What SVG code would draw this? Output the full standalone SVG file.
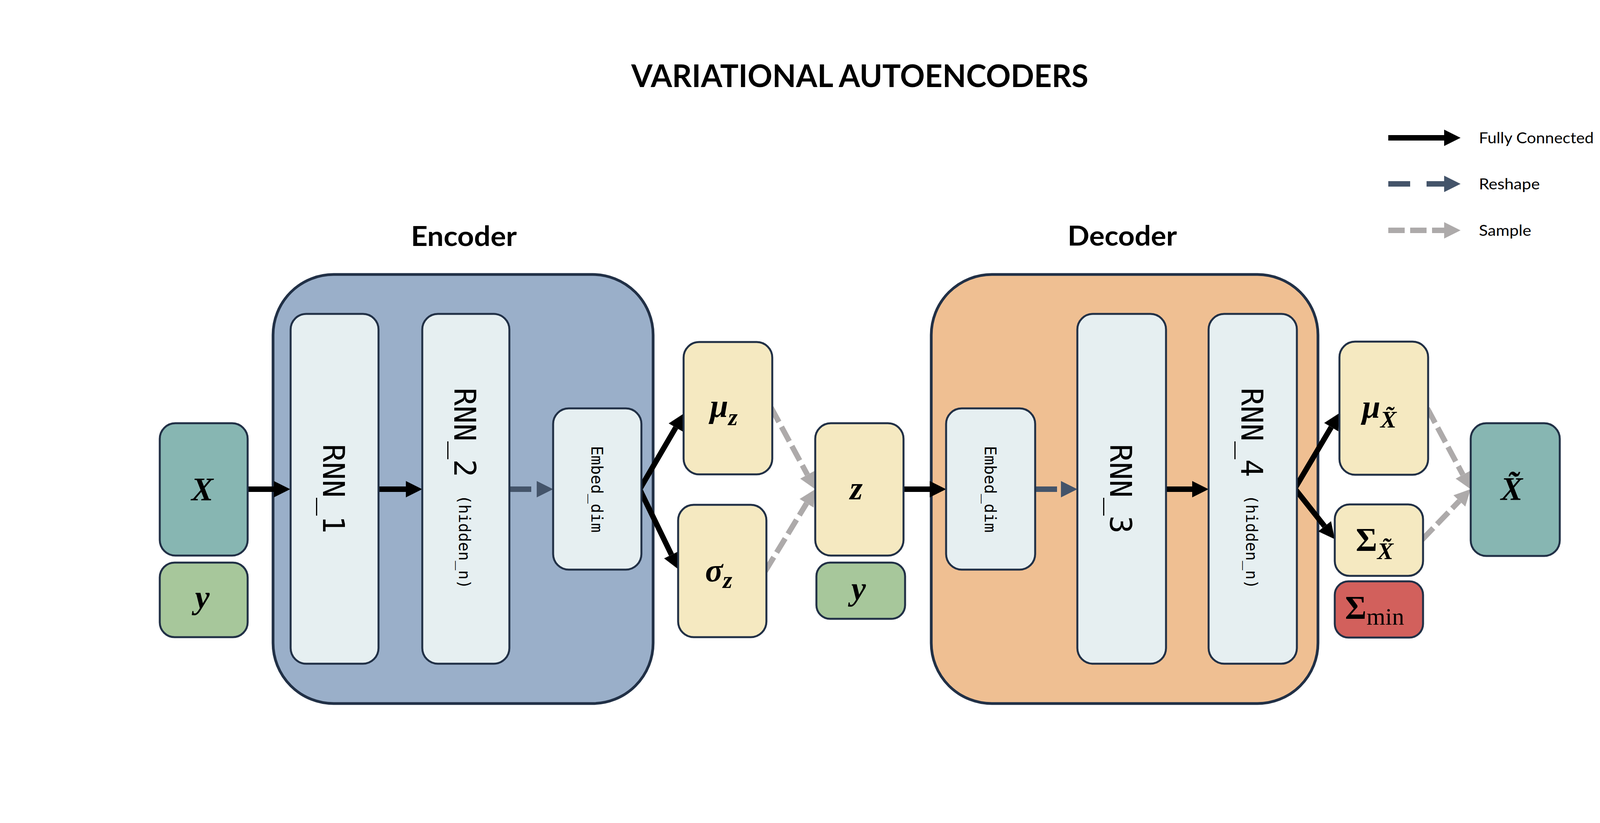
<svg xmlns="http://www.w3.org/2000/svg" width="4400" height="2108" viewBox="0 0 4400 2108">
<defs>
<style>
.bg{fill:#ffffff}
.box{stroke:#213046;stroke-width:5}
.big{stroke:#213046;stroke-width:7}
.teal{fill:#87B6B2}
.green{fill:#A7C79B}
.blue{fill:#9AAFC9}
.orange{fill:#EFBF92}
.light{fill:#E6EFF1}
.yellow{fill:#F5E9C1}
.red{fill:#D2605C}
.title{font-family:Lato,"Liberation Sans",sans-serif;font-weight:bold;fill:#000}
.leg{font-family:Lato,"Liberation Sans",sans-serif;font-size:39px;fill:#000}
.mono{font-family:"DejaVu Sans Mono","Liberation Mono",monospace;fill:#000}
.math{font-family:"Liberation Serif","DejaVu Serif",serif;font-weight:bold;font-style:italic;font-size:84px;fill:#000}
.up{font-style:normal}
.fc{stroke:#000;stroke-width:14;fill:none}
.rs{stroke:#44546A;stroke-width:14;fill:none;stroke-dasharray:56 42}
.sm{stroke:#ADAAAA;stroke-width:14;fill:none;stroke-dasharray:42 14}
</style>
<marker id="hFc" markerUnits="userSpaceOnUse" markerWidth="44" markerHeight="44" refX="0" refY="21" orient="auto" overflow="visible"><path d="M0,0 L42,21 L0,42 Z" fill="#000"/></marker>
<marker id="hRs" markerUnits="userSpaceOnUse" markerWidth="44" markerHeight="44" refX="0" refY="21" orient="auto" overflow="visible"><path d="M0,0 L42,21 L0,42 Z" fill="#44546A"/></marker>
<marker id="hSm" markerUnits="userSpaceOnUse" markerWidth="44" markerHeight="44" refX="0" refY="21" orient="auto" overflow="visible"><path d="M0,0 L42,21 L0,42 Z" fill="#ADAAAA"/></marker>
</defs>
<rect class="bg" x="0" y="0" width="4400" height="2108"/>

<text class="title" x="1616" y="223" font-size="80" textLength="1170" lengthAdjust="spacingAndGlyphs">VARIATIONAL AUTOENCODERS</text>

<g id="legend">
<line class="fc" x1="3554" y1="353" x2="3697" y2="353" marker-end="url(#hFc)"/>
<text class="leg" x="3786" y="367" textLength="294" lengthAdjust="spacingAndGlyphs">Fully Connected</text>
<line class="rs" x1="3554" y1="471" x2="3697" y2="471" marker-end="url(#hRs)"/>
<text class="leg" x="3786" y="485" textLength="156" lengthAdjust="spacingAndGlyphs">Reshape</text>
<line class="sm" x1="3554" y1="590" x2="3697" y2="590" marker-end="url(#hSm)"/>
<text class="leg" x="3786" y="604" textLength="134" lengthAdjust="spacingAndGlyphs">Sample</text>
</g>

<g id="encoder">
<text class="title" x="1052" y="630" font-size="71" textLength="271" lengthAdjust="spacingAndGlyphs">Encoder</text>
<rect class="big blue" x="699" y="703" width="973" height="1099" rx="155" ry="155"/>
</g>

<g id="decoder">
<text class="title" x="2733" y="629" font-size="71" textLength="280" lengthAdjust="spacingAndGlyphs">Decoder</text>
<rect class="big orange" x="2384" y="703" width="990" height="1099" rx="155" ry="155"/>
</g>

<g id="connectors">
<line class="fc" x1="634" y1="1253" x2="701" y2="1253" marker-end="url(#hFc)"/>
<line class="fc" x1="969" y1="1253" x2="1039" y2="1253" marker-end="url(#hFc)"/>
<line class="rs" x1="1304" y1="1253" x2="1374" y2="1253" marker-end="url(#hRs)"/>
<line class="fc" x1="1636" y1="1256" x2="1730" y2="1095" marker-end="url(#hFc)"/>
<line class="fc" x1="1636" y1="1250" x2="1719" y2="1421" marker-end="url(#hFc)"/>
<line class="sm" x1="1974" y1="1044" x2="2067" y2="1216" marker-end="url(#hSm)"/>
<line class="sm" x1="1959" y1="1463" x2="2065" y2="1289" marker-end="url(#hSm)"/>
<line class="fc" x1="2313" y1="1253" x2="2380" y2="1253" marker-end="url(#hFc)"/>
<line class="rs" x1="2650" y1="1253" x2="2716" y2="1253" marker-end="url(#hRs)"/>
<line class="fc" x1="2985" y1="1253" x2="3052" y2="1253" marker-end="url(#hFc)"/>
<line class="fc" x1="3312" y1="1256" x2="3408" y2="1094" marker-end="url(#hFc)"/>
<line class="fc" x1="3312" y1="1248" x2="3391" y2="1348" marker-end="url(#hFc)"/>
<line class="sm" x1="3654" y1="1046" x2="3745" y2="1216" marker-end="url(#hSm)"/>
<line class="sm" x1="3640" y1="1383" x2="3736" y2="1283" marker-end="url(#hSm)"/>
</g>

<g id="node-x">
<rect class="box teal" x="409" y="1084" width="225" height="339" rx="40" ry="40"/>
<text class="math" x="518" y="1282" text-anchor="middle">X</text>
</g>
<g id="node-y-enc">
<rect class="box green" x="409" y="1441" width="225" height="191" rx="38" ry="38"/>
<text class="math" x="518" y="1558" text-anchor="middle">y</text>
</g>
<g id="node-rnn1">
<rect class="box light" x="744" y="804" width="225" height="896" rx="40" ry="40"/>
<text class="mono" font-size="76" text-anchor="middle" transform="translate(827,1252) rotate(90)">RNN_1</text>
</g>
<g id="node-rnn2">
<rect class="box light" x="1081" y="804" width="223" height="896" rx="40" ry="40"/>
<text class="mono" text-anchor="middle" transform="translate(1163,1251) rotate(90)"><tspan font-size="76">RNN_2 </tspan><tspan font-size="40" dy="-12">(hidden_n)</tspan></text>
</g>
<g id="node-embed-enc">
<rect class="box light" x="1416" y="1046" width="226" height="413" rx="40" ry="40"/>
<text class="mono" font-size="41" text-anchor="middle" transform="translate(1514,1253) rotate(90)">Embed_dim</text>
</g>
<g id="node-mu-z">
<rect class="box yellow" x="1750" y="876" width="227" height="339" rx="40" ry="40"/>
<text class="math" x="1853" y="1068" text-anchor="middle">μ<tspan font-size="62" dy="21">z</tspan></text>
</g>
<g id="node-sigma-z">
<rect class="box yellow" x="1736" y="1293" width="226" height="339" rx="40" ry="40"/>
<text class="math" x="1840" y="1489" text-anchor="middle">σ<tspan font-size="62" dy="17">z</tspan></text>
</g>
<g id="node-z">
<rect class="box yellow" x="2087" y="1084" width="226" height="339" rx="40" ry="40"/>
<text class="math" x="2192" y="1279" text-anchor="middle">z</text>
</g>
<g id="node-y-dec">
<rect class="box green" x="2090" y="1441" width="227" height="144" rx="35" ry="35"/>
<text class="math" x="2198" y="1536" text-anchor="middle">y</text>
</g>
<g id="node-embed-dec">
<rect class="box light" x="2422" y="1046" width="228" height="413" rx="40" ry="40"/>
<text class="mono" font-size="41" text-anchor="middle" transform="translate(2521,1253) rotate(90)">Embed_dim</text>
</g>
<g id="node-rnn3">
<rect class="box light" x="2758" y="804" width="227" height="896" rx="40" ry="40"/>
<text class="mono" font-size="76" text-anchor="middle" transform="translate(2842,1252) rotate(90)">RNN_3</text>
</g>
<g id="node-rnn4">
<rect class="box light" x="3094" y="804" width="226" height="896" rx="40" ry="40"/>
<text class="mono" text-anchor="middle" transform="translate(3178,1251) rotate(90)"><tspan font-size="76">RNN_4 </tspan><tspan font-size="40" dy="-12">(hidden_n)</tspan></text>
</g>
<g id="node-mu-xt">
<rect class="box yellow" x="3429" y="875" width="227" height="341" rx="40" ry="40"/>
<text class="math" x="3531" y="1070" text-anchor="middle">μ<tspan font-size="62" dy="25">X̃</tspan></text>
</g>
<g id="node-sigma-xt">
<rect class="box yellow" x="3417" y="1292" width="226" height="183" rx="38" ry="38"/>
<text class="math" x="3519" y="1411" text-anchor="middle"><tspan class="up">Σ</tspan><tspan font-size="62" dy="21">X̃</tspan></text>
</g>
<g id="node-sigma-min">
<rect class="box red" x="3417" y="1489" width="226" height="144" rx="35" ry="35"/>
<text class="math up" x="3519" y="1585" text-anchor="middle">Σ<tspan font-size="62" font-weight="normal" dy="15">min</tspan></text>
</g>
<g id="node-xt">
<rect class="box teal" x="3765" y="1084" width="228" height="340" rx="40" ry="40"/>
<text class="math" x="3870" y="1281" text-anchor="middle">X̃</text>
</g>
</svg>
